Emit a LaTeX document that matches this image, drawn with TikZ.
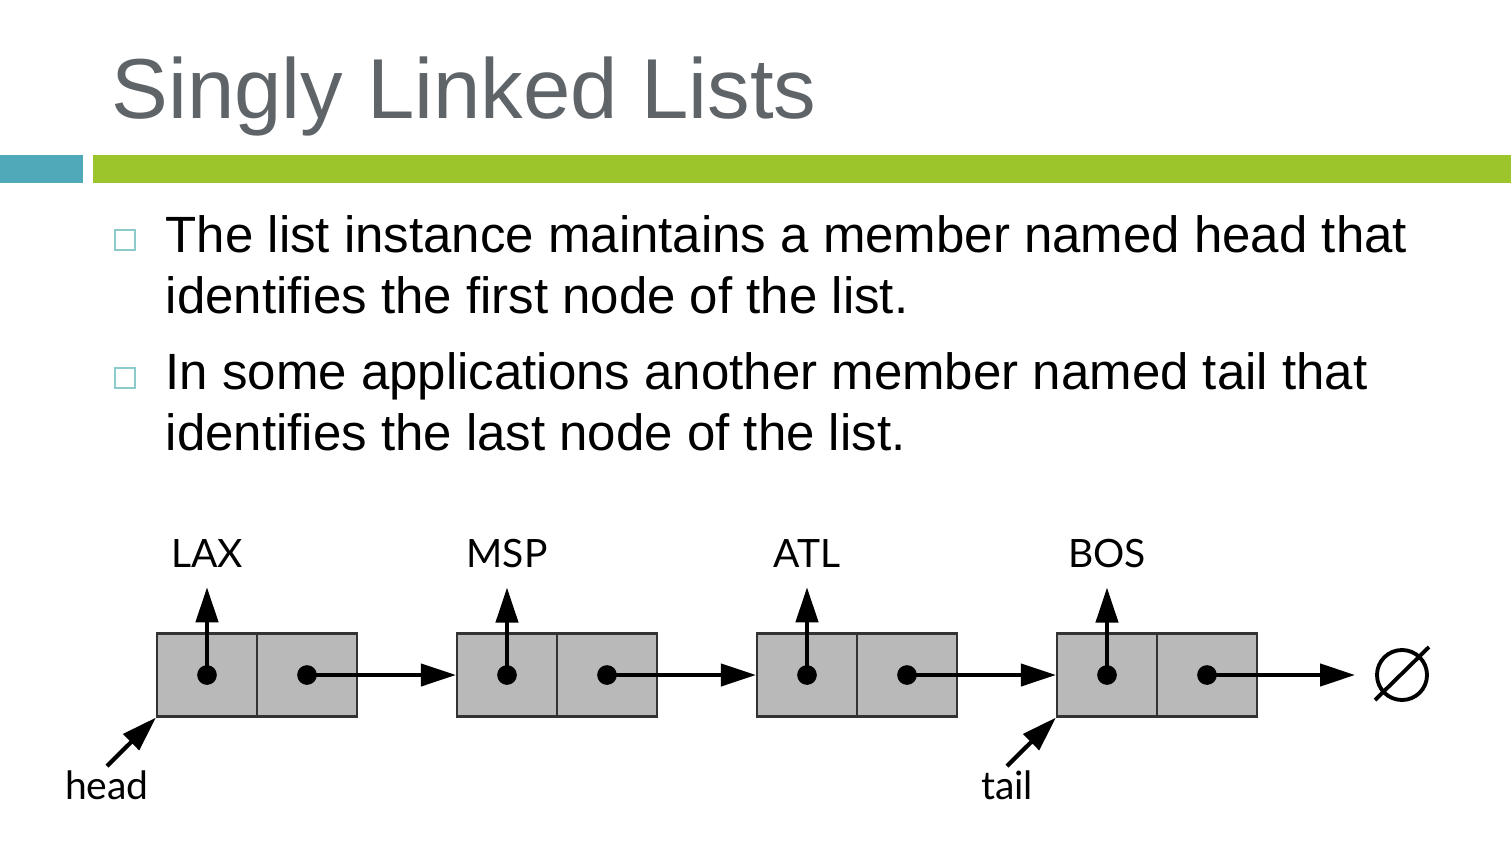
\documentclass[tikz,border=0pt]{standalone}
\usepackage{fontspec}
\setmainfont{Liberation Sans}
\newfontfamily\diagfont{Lato}
\usetikzlibrary{arrows.meta,calc}
\definecolor{titlegray}{HTML}{5F6469}
\definecolor{barteal}{HTML}{4FA9B9}
\definecolor{bargreen}{HTML}{9CC42B}
\definecolor{bulletteal}{HTML}{8CCBCB}
\definecolor{cellgray}{HTML}{B9B9B9}

\begin{document}
\begin{tikzpicture}[x=0.01cm, y=-0.01cm,
    cell/.style={draw=black!80, fill=cellgray, line width=0.6pt, minimum width=1cm, minimum height=0.83cm, inner sep=0pt},
    ptr/.style={line width=1.2pt, -{Triangle[length=0.35cm,width=0.22cm]}},
    lbl/.style={font=\diagfont\fontsize{11.1}{13}\selectfont, inner sep=1pt},
    bullettext/.style={anchor=base west, align=left, inner sep=0pt, font=\fontsize{14.5}{17.1}\selectfont}]
    \useasboundingbox (0,0) rectangle (1511,845);

    % Parametri
    \def\gap{300}       % Distanza tra i nodi della lista
    \def\ymid{675}      % Quota dei puntatori

    % Titolo e barre
    \node[anchor=base west, inner sep=0pt, text=titlegray, font=\fontsize{24.2}{30}\selectfont] (title) at (111,118) {Singly Linked Lists};
    \fill[barteal] (0,155) rectangle (83,183);
    \fill[bargreen] (93,155) rectangle (1511,183);

    % Punti elenco (ancora base = ultima riga)
    \draw[bulletteal, line width=0.8pt] (115,230) rectangle (135,250);
    \draw[bulletteal, line width=0.8pt] (115,368) rectangle (135,388);
    \node[bullettext] (b1) at (165,313) {The list instance maintains a member named head that\\identifies the first node of the list.};
    \node[bullettext] (b2) at (165,450) {In some applications another member named tail that\\identifies the last node of the list.};

    % Nodi della lista
    \foreach \city [count=\k] in {LAX, MSP, ATL, BOS} {
        \pgfmathsetmacro\xe{207+\gap*(\k-1)}
        \node[cell] (e\k) at (\xe,\ymid) {};
        \node[cell] (n\k) at (\xe+100,\ymid) {};
        \node[lbl, anchor=base] (l\k) at (\xe,567) {\city};
        \draw[ptr, shorten >=0.16cm] (e\k.center) -- (l\k.south);
        \fill (e\k.center) circle (2.8pt);
        \fill (n\k.center) circle (2.8pt);
    }

    % Collegamenti next
    \foreach \k [evaluate=\k as \kk using int(\k+1)] in {1,2,3} {
        \draw[ptr] (n\k.center) -- (e\kk.west);
    }

    % Fine lista
    \node[circle, draw, line width=1.1pt, minimum size=0.5cm, inner sep=0pt] (null) at (1402,\ymid) {};
    \draw[line width=1.1pt] ($(null.center)+(-27,25)$) -- ($(null.center)+(27,-28)$);
    \draw[ptr, shorten >=0.2cm] (n4.center) -- (null.west);

    % head e tail
    \node[lbl, anchor=base] (head) at (107,799) {head};
    \node[lbl, anchor=base] (tail) at (1007,799) {tail};
    \draw[ptr] (head.north) -- (e1.south west);
    \draw[ptr] (tail.north) -- (e4.south west);

\end{tikzpicture}
\end{document}
